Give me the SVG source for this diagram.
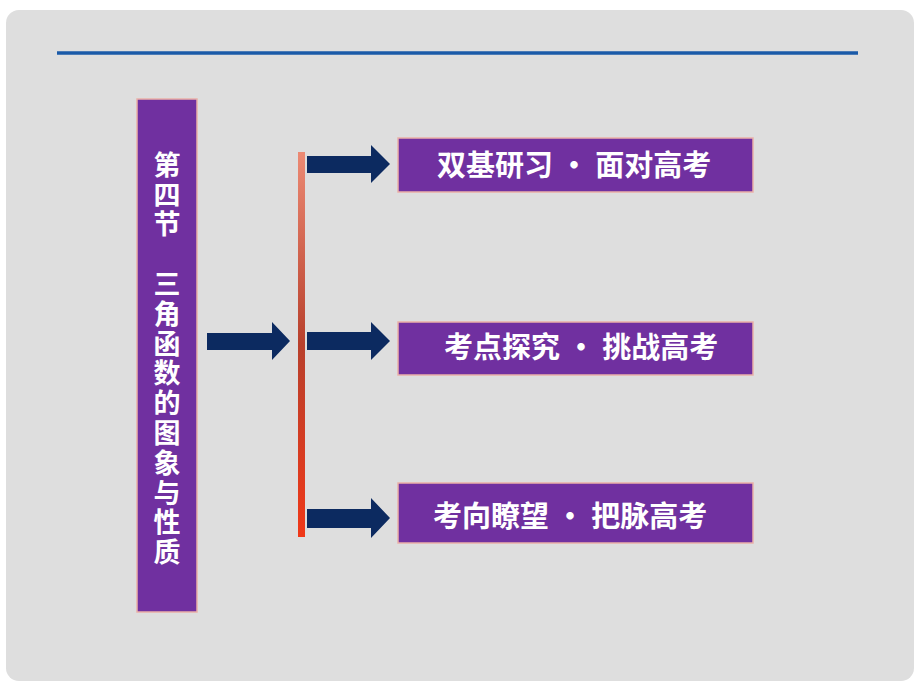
<svg xmlns="http://www.w3.org/2000/svg" width="920" height="690" viewBox="0 0 920 690">
<defs>
<linearGradient id="bar" x1="0" y1="0" x2="0" y2="1">
<stop offset="0" stop-color="#ec8a74"/>
<stop offset="0.5" stop-color="#b8402c"/>
<stop offset="1" stop-color="#f03818"/>
</linearGradient>
<style>
.box{fill:#7030a0;stroke:#eab0a8;stroke-width:1.5}
.arrow{fill:#0c2a60}
.t{font-family:"Noto Sans CJK SC","Noto Sans CJK TC",sans-serif;font-weight:bold;fill:#ffffff}
.h{font-size:29px}
.v{font-size:27px;text-anchor:middle}
</style>
</defs>
<rect x="0" y="0" width="920" height="690" fill="#ffffff"/>
<rect x="6" y="10" width="908" height="671" rx="13" fill="#dedede"/>
<line x1="57" y1="53" x2="858" y2="53" stroke="#1a5aa8" stroke-width="3.5"/>
<g id="title">
<rect class="box" x="137" y="99" width="60" height="513"/>
<text class="t v" x="167"><tspan x="167" y="175">第</tspan><tspan x="167" y="205">四</tspan><tspan x="167" y="234">节</tspan><tspan x="167" y="294">三</tspan><tspan x="167" y="324">角</tspan><tspan x="167" y="354">函</tspan><tspan x="167" y="383">数</tspan><tspan x="167" y="413">的</tspan><tspan x="167" y="443">图</tspan><tspan x="167" y="473">象</tspan><tspan x="167" y="503">与</tspan><tspan x="167" y="532">性</tspan><tspan x="167" y="562">质</tspan></text>
</g>
<g id="connectors">
<rect x="298" y="152" width="7" height="385" fill="url(#bar)"/>
<polygon class="arrow" points="207,333 272,333 272,322 290,341 272,360 272,350 207,350"/>
<polygon class="arrow" points="307,156 371,156 371,145 390,164 371,183 371,173 307,173"/>
<polygon class="arrow" points="307,332 371,332 371,322 390,341 371,360 371,350 307,350"/>
<polygon class="arrow" points="307,509 371,509 371,498 390,518 371,538 371,528 307,528"/>
</g>
<g id="node1">
<rect class="box" x="398" y="138" width="355" height="54"/>
<text class="t h" x="437" y="176">双基研习 · 面对高考</text>
</g>
<g id="node2">
<rect class="box" x="398" y="322" width="355" height="53"/>
<text class="t h" x="444" y="358">考点探究 · 挑战高考</text>
</g>
<g id="node3">
<rect class="box" x="398" y="483" width="355" height="60"/>
<text class="t h" x="433" y="527">考向瞭望 · 把脉高考</text>
</g>
</svg>
